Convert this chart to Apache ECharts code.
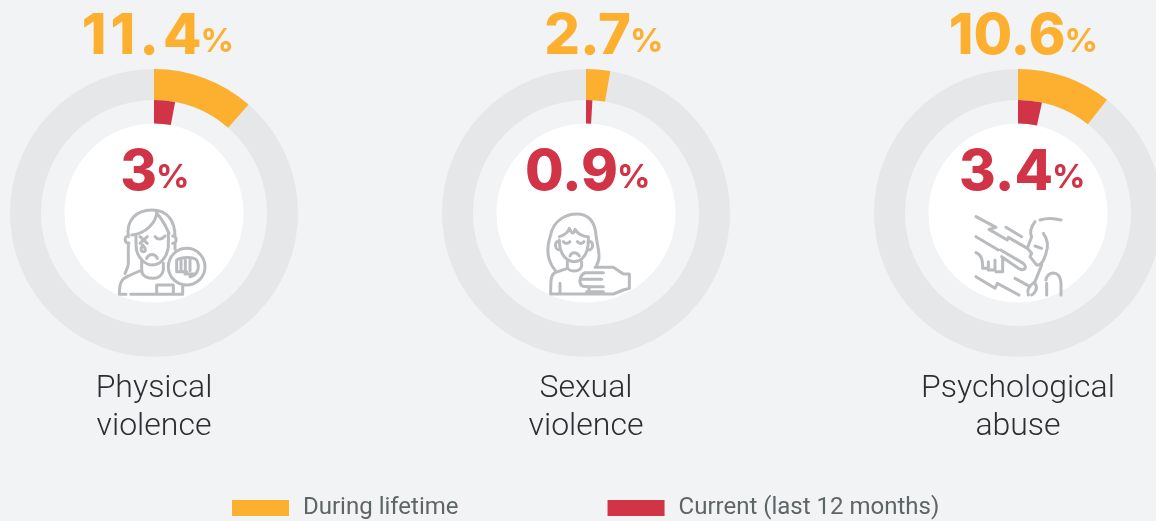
<!DOCTYPE html>
<html><head><meta charset="utf-8">
<style>html,body{margin:0;padding:0;background:#f1f3f5}#c{width:1156px;height:521px}</style>
<script src="https://cdn.jsdelivr.net/npm/echarts@6/dist/echarts.min.js"></script>
</head><body><div id="c"></div>
<script>
const categories = ['Physical\nviolence', 'Sexual\nviolence', 'Psychological\nabuse'];
const lifetime = [11.4, 2.7, 10.6];
const current = [3, 0.9, 3.4];
const seriesNames = ['During lifetime', 'Current (last 12 months)'];
const centersX = [154, 586, 1018];
const centerY = 213;
const topPctX = [200.5, 630, 1064.5];
const innerPctX = [156, 617, 1052];
const topSpacing = [4, 0, 0];
const ORANGE = '#fdb030', RED = '#d13347', RING = '#e6e7e9', BG = '#f1f3f5', ICON = '#b9bbbe';

const icons = [
  {x: 0, y: 0, d: 'M385 710C378 660 410 630 455 630C505 630 525 665 525 710M385 728V790C385 800 380 810 375 820M525 728V748M470 635C470 665 440 700 395 705M470 640C490 660 500 685 507 700M385 708C372 708 372 730 387 730M518 708C532 708 532 730 518 730M408 708V735C408 775 440 795 455 795C480 795 500 775 505 740V697M425 780V810C425 830 445 835 460 835C475 835 488 825 490 810V790M425 810L385 828C365 835 358 850 358 883H378M392 883H548V858M470 883V855H520V883M420 710L442 730M442 710L420 730M428 735C420 748 424 755 430 755C437 755 440 748 428 735M465 710C472 720 485 720 495 708M440 775C447 760 465 760 472 775M615 800A55 55 0 1 1 505 800A55 55 0 1 1 615 800M530 780C545 770 580 770 590 780C600 800 595 825 570 830M530 780V815H560M543 780V812M556 780V812M570 780V812M555 822H585'},
  {x: 480, y: 140, d: 'M225 390C200 360 200 320 212 285C220 240 260 222 290 222C330 222 345 250 348 285C352 320 365 355 350 375M238 300C238 350 265 365 282 365C305 365 325 345 325 300V290M238 290C255 285 265 275 268 265C275 280 280 285 285 268C295 285 310 290 325 290M238 305C222 300 222 330 240 330M325 305C342 300 342 330 325 330M250 305C255 312 265 312 270 305M292 305C297 312 307 312 312 305M270 348C275 335 290 335 298 348M262 365V380C262 395 300 400 305 378V365M262 385L225 398C212 405 212 420 212 462H330M240 430V462M327 462V445M345 382H400L430 402H448V445L430 450L400 462H330M370 398H315C300 405 295 425 305 437C310 442 320 440 370 440M303 418H365M320 455H370'},
  {x: 920, y: 140, d: 'M168 230L228 262L207 268L262 300M258 262L305 290M168 290L235 330M322 325L265 292M242 330L310 370C325 385 310 395 295 385L245 350M168 338C185 345 188 360 188 385H205V365M205 390H225V360M228 395H248V355M168 410L225 445L232 430L297 465M285 415L330 440M360 240C385 232 405 235 423 240M345 245C330 265 330 280 335 290L322 325L335 340L330 350L350 375C365 378 372 360 378 340C385 320 385 300 370 280M345 318L365 325M365 375L345 425C325 440 320 450 325 465M345 430C355 445 345 460 335 465M380 465V430M378 420C380 395 420 385 423 430V465'}
];
icons.forEach((ic, i) => echarts.graphic.registerShape('icon' + i, echarts.graphic.extendPath(ic.d)));

const base = {type: 'pie', silent: true, startAngle: 90, clockwise: true, animation: false,
  label: {show: false}, labelLine: {show: false}, emphasis: {disabled: true}};
const series = [], graphic = [];
const blank = v => ({name: 'rest', value: v, itemStyle: {color: 'rgba(0,0,0,0)'}});

function numberText(value, rightX, y, color, spacing) {
  const font = {fontFamily: 'Inter', fontWeight: 800, fontSize: 56, fill: color};
  const chars = String(value).split('');
  const text = spacing
    ? chars.map((c, k) => (k < chars.length - 1 ? '{s|' : '{e|') + c + '}').join('')
    : String(value);
  return {type: 'text', z: 10, silent: true, style: Object.assign({x: rightX, y, align: 'right', verticalAlign: 'middle', text,
    rich: spacing ? {s: Object.assign({}, font, {padding: [0, spacing, 0, 0]}), e: font} : undefined}, font)};
}
function pctText(x, y, color) {
  return {type: 'text', z: 10, silent: true, style: {x, y, align: 'left', verticalAlign: 'middle', text: '%',
    fontFamily: 'Inter', fontWeight: 700, fontSize: 33, fill: color}};
}

centersX.forEach((cx, i) => {
  const center = [cx, centerY];
  series.push(Object.assign({}, base, {center, radius: [113, 144], data: [{name: 'ring', value: 100, itemStyle: {color: RING}}]}));
  series.push(Object.assign({}, base, {center, radius: [0, 89.5], data: [{name: 'disc', value: 100, itemStyle: {color: '#fff'}}]}));
  series.push(Object.assign({}, base, {center, radius: [113, 144], data: [
    {name: seriesNames[0], value: lifetime[i], itemStyle: {color: ORANGE}}, blank(100 - lifetime[i])]}));
  series.push(Object.assign({}, base, {center, radius: [89.5, 113], data: [
    {name: seriesNames[1], value: current[i], itemStyle: {color: RED}}, blank(100 - current[i])]}));

  graphic.push(numberText(lifetime[i], topPctX[i] + 1, 37, ORANGE, topSpacing[i]));
  graphic.push(pctText(topPctX[i], 42, ORANGE));
  graphic.push(numberText(current[i], innerPctX[i] + 1, 173, RED, 0));
  graphic.push(pctText(innerPctX[i], 178, RED));
  graphic.push({type: 'text', z: 10, silent: true, style: {x: cx, y: 408, align: 'center', verticalAlign: 'middle',
    text: categories[i], fontFamily: 'Roboto', fontWeight: 300, fontSize: 32, lineHeight: 38, fill: '#2b2f30'}});
  graphic.push({type: 'icon' + i, z: 10, silent: true, x: icons[i].x, y: icons[i].y, scaleX: 1/3, scaleY: 1/3,
    style: {fill: 'none', stroke: ICON, lineWidth: 9, lineCap: 'round', lineJoin: 'round'}});
});

const chart = echarts.init(document.getElementById('c'), null, {renderer: 'canvas'});
chart.setOption({
  backgroundColor: BG,
  animation: false,
  legend: {left: 232, top: 496, padding: 0, itemWidth: 57, itemHeight: 16, itemGap: 149, selectedMode: false, icon: 'rect',
    data: seriesNames, textStyle: {fontFamily: 'Roboto', fontSize: 24, color: '#5d6665', padding: [3, 0, 0, 9]}},
  series, graphic
});
</script></body></html>
